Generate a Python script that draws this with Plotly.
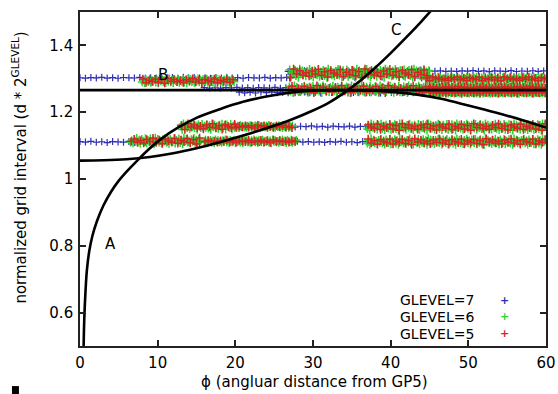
import plotly.graph_objects as go

# ---- curve A (rises from the origin, flattens, then falls) ----
curve_a_x = [0.45, 0.55, 0.7, 0.9, 1.2, 1.6, 2.2, 3.0, 4.0, 5.0, 6.0, 7.4, 9.0, 10.5,
             12.5, 15.0, 18.0, 21.0, 24.0, 27.0, 30.0, 33.0, 36.0, 39.5, 43.0, 46.5,
             50.0, 53.5, 57.0, 60.0]
curve_a_y = [0.48, 0.58, 0.66, 0.73, 0.785, 0.83, 0.875, 0.92, 0.962, 0.995, 1.022, 1.056,
             1.092, 1.121, 1.152, 1.183, 1.209, 1.231, 1.247, 1.258, 1.264, 1.266, 1.265,
             1.262, 1.254, 1.24, 1.22, 1.199, 1.176, 1.154]

# ---- curve C (slow start, steep rise) ----
curve_c_x = [0, 3, 6, 9, 12, 15, 18, 21, 24, 27, 30, 32, 34, 36, 38, 40, 42, 44, 46]
curve_c_y = [1.055, 1.056, 1.059, 1.066, 1.077, 1.092, 1.110, 1.130, 1.152, 1.176, 1.205,
             1.228, 1.258, 1.293, 1.333, 1.377, 1.424, 1.473, 1.525]

# ---- line B (constant) ----
line_b_x = [0, 60]
line_b_y = [1.266, 1.266]

# ---- scatter bands: (phi start, phi end, centre, half width) ----
bands_glevel7 = [
    (0.0, 27.0, 1.303, 0.0015),
    (26.8, 60.0, 1.323, 0.0015),
    (27.0, 45.0, 1.315, 0.012),
    (44.0, 60.0, 1.300, 0.004),
    (16.0, 60.0, 1.273, 0.0015),
    (20.5, 60.0, 1.259, 0.0015),
    (13.0, 60.0, 1.157, 0.002),
    (0.0, 60.0, 1.111, 0.002),
]
bands_glevel6 = [
    (8.0, 20.0, 1.294, 0.007),
    (27.0, 45.0, 1.317, 0.013),
    (44.5, 60.0, 1.300, 0.006),
    (26.8, 45.0, 1.269, 0.011),
    (45.0, 60.0, 1.274, 0.003),
    (45.0, 60.0, 1.259, 0.003),
    (13.0, 20.0, 1.157, 0.009),
    (20.0, 27.5, 1.157, 0.004),
    (37.0, 60.0, 1.156, 0.010),
    (6.5, 15.5, 1.114, 0.009),
    (16.0, 28.0, 1.113, 0.005),
    (37.0, 60.0, 1.112, 0.009),
]
bands_glevel5 = [
    (8.0, 20.0, 1.294, 0.007),
    (27.0, 45.0, 1.317, 0.013),
    (44.5, 60.0, 1.300, 0.006),
    (26.8, 45.0, 1.269, 0.011),
    (45.0, 60.0, 1.274, 0.003),
    (45.0, 60.0, 1.259, 0.003),
    (13.0, 20.0, 1.157, 0.009),
    (20.0, 27.5, 1.157, 0.004),
    (37.0, 60.0, 1.156, 0.010),
    (6.5, 15.5, 1.114, 0.009),
    (16.0, 28.0, 1.113, 0.004),
    (37.0, 60.0, 1.112, 0.009),
]

# fixed spread pattern across each band's width
spread = [0.1, -0.7, 0.5, -0.2, 0.9, -0.5, 0.3, -0.9, 0.6, 0.0, -0.4, 0.8, -0.8, 0.2,
          -0.3, 0.7, -0.6, 0.4, -1.0, 0.95, -0.15, 0.55, -0.45]

levels = ["GLEVEL=7", "GLEVEL=6", "GLEVEL=5"]
level_colors = ["#2f2fb4", "#2ed42e", "#d42424"]


def band_points(bands, step, phase, shift):
    xs, ys = [], []
    k = phase
    for x0, x1, yc, half in bands:
        x = x0 + shift
        while x <= x1:
            xs.append(x)
            ys.append(yc + half * spread[k % len(spread)])
            k += 1
            x += step
    return xs, ys


fig = go.Figure()

# (bands, sample step, pattern phase, x shift, marker size, stroke width)
samples = [
    (bands_glevel7, 0.7, 0, 0.0, 5, 1.2),
    (bands_glevel6, 0.16, 5, 0.0, 6, 1.5),
    (bands_glevel5, 0.4, 11, 0.1, 6, 1.5),
]
for (bands, step, phase, shift, msize, mw), name, col in zip(samples, levels, level_colors):
    xs, ys = band_points(bands, step, phase, shift)
    fig.add_trace(go.Scatter(
        x=xs, y=ys, mode="markers", name=name, showlegend=False,
        marker=dict(symbol="cross-thin", size=msize, line=dict(width=mw, color=col)),
    ))

line_style = dict(color="black", width=2.6)
fig.add_trace(go.Scatter(x=curve_a_x, y=curve_a_y, mode="lines", showlegend=False,
                         line=dict(shape="spline", smoothing=1.0, **line_style)))
fig.add_trace(go.Scatter(x=curve_c_x, y=curve_c_y, mode="lines", showlegend=False,
                         line=dict(shape="spline", smoothing=1.0, **line_style)))
fig.add_trace(go.Scatter(x=line_b_x, y=line_b_y, mode="lines", showlegend=False,
                         line=line_style))

font = dict(family="DejaVu Sans", size=15, color="black")
title_font = dict(family="DejaVu Sans", size=15, color="black")
key_font = dict(family="DejaVu Sans", size=14, color="black")

annotations = [
    dict(x=3.9, y=0.804, text="A", xref="x", yref="y", showarrow=False, font=font),
    dict(x=10.7, y=1.312, text="B", xref="x", yref="y", showarrow=False, font=font),
    dict(x=40.7, y=1.446, text="C", xref="x", yref="y", showarrow=False, font=font),
    dict(x=0.504, y=-0.108, xref="paper", yref="paper", showarrow=False,
         xanchor="center", yanchor="middle",
         text="ϕ (angluar distance from GP5)", font=title_font),
    dict(x=-0.131, y=0.534, xref="paper", yref="paper", showarrow=False, textangle=-90,
         xanchor="center", yanchor="middle",
         text="normalized grid interval (d * 2<sup>GLEVEL</sup>)", font=title_font),
]
key_rows = [0.137, 0.087, 0.037]
for name, col, yy in zip(levels, level_colors, key_rows):
    annotations.append(dict(x=0.8476, y=yy, xref="paper", yref="paper", showarrow=False,
                            xanchor="right", yanchor="middle", text=name, font=key_font,
                            height=16, borderpad=0))
    annotations.append(dict(x=0.91, y=yy, xref="paper", yref="paper", showarrow=False,
                            xanchor="center", yanchor="middle", text="<b>+</b>",
                            font=dict(family="DejaVu Sans", size=11, color=col)))

axis_common = dict(
    showline=True, mirror="allticks", linecolor="#222222", linewidth=1.6,
    ticks="inside", ticklen=6, tickwidth=1.5, tickcolor="#222222",
    showgrid=False, zeroline=False, tickfont=font,
)

fig.update_layout(
    width=558, height=394,
    margin=dict(l=80, r=12, t=12, b=48, autoexpand=False),
    paper_bgcolor="white", plot_bgcolor="white",
    xaxis=dict(range=[0, 60], tickvals=[0, 10, 20, 30, 40, 50, 60],
               ticklabelstandoff=2, **axis_common),
    yaxis=dict(range=[0.5, 1.5], tickvals=[0.6, 0.8, 1.0, 1.2, 1.4],
               ticklabelstandoff=2, **axis_common),
    annotations=annotations,
    shapes=[dict(type="rect", xref="paper", yref="paper", x0=-0.146, x1=-0.131,
                 y0=-0.144, y1=-0.12, fillcolor="black", line=dict(width=0))],
)

fig.write_html("out.html")
